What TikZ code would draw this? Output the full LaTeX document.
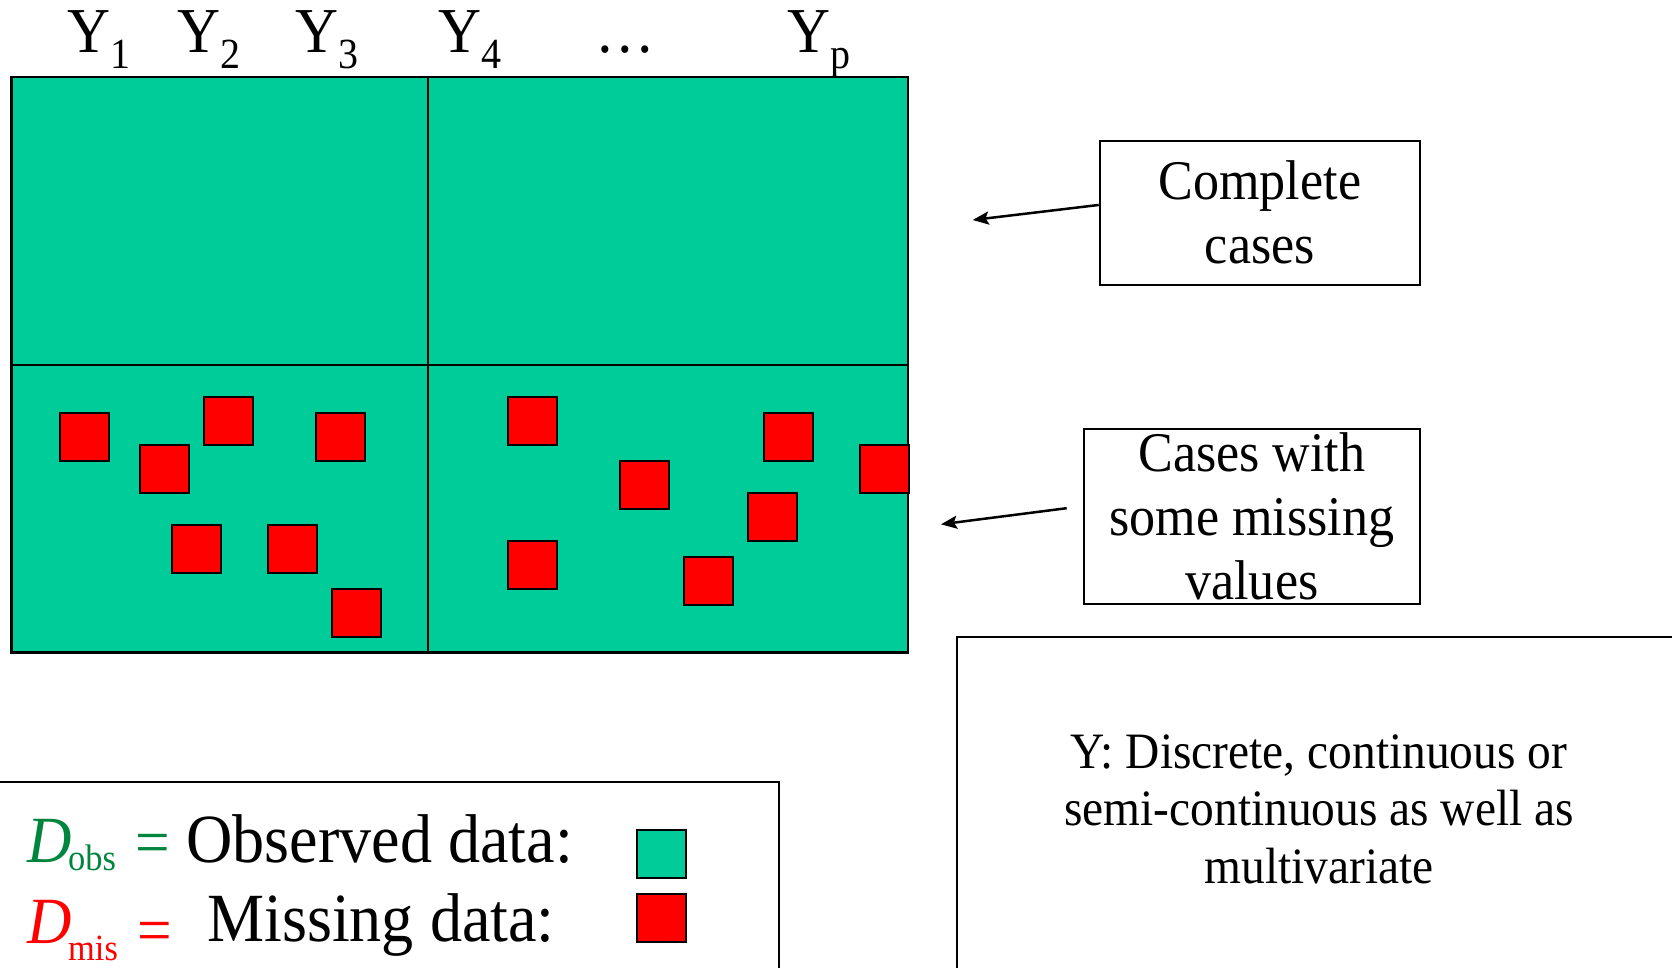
\documentclass[tikz,border=0pt]{standalone}
\usepackage{fontspec}
\setmainfont{Liberation Serif}[FakeStretch=0.93]
\usetikzlibrary{arrows.meta,calc}
\definecolor{obsgreen}{RGB}{0,204,153}
\definecolor{misred}{RGB}{255,0,0}
\definecolor{labgreen}{RGB}{0,133,62}
\newcommand\fs[1]{\fontsize{#1pt}{#1pt}\selectfont}
\newcommand\varidx[1]{\raisebox{-15.6pt}{\fs{43}#1}}

\begin{document}
\begin{tikzpicture}[x=1pt,y=-1pt,
  txt/.style={inner sep=0pt, anchor=base west},
  cell/.style={fill=misred, draw=black, line width=2pt},
  keybox/.style={draw=black, line width=2pt, minimum size=48.6pt, inner sep=0pt, anchor=north west},
  callout/.style={draw=black, line width=2pt, inner sep=0pt, align=center,
                  font=\fontsize{56pt}{64pt}\selectfont},
  frame/.style={draw=black, line width=2pt, inner sep=0pt},
  pointer/.style={-{Stealth[length=16pt,width=13pt,inset=3pt]}, line width=2.5pt},
]
\clip (0,0) rectangle (1672,968);

% variable names above the data matrix
\node[txt,font=\fs{64}] (y1) at (67,52.7) {Y\varidx{1}};
\node[txt,font=\fs{64}] (y2) at (177,52.7) {Y\varidx{2}};
\node[txt,font=\fs{64}] (y3) at (295,52.7) {Y\varidx{3}};
\node[txt,font=\fs{64}] (y4) at (438,52.7) {Y\varidx{4}};
\node[txt,font=\fs{64}] (dots) at (595,52.7) {…};
\node[txt,font=\fs{64}] (yp) at (787,52.7) {Y\varidx{p}};

% data matrix
\fill[obsgreen] (11.7,77) rectangle (908,652.7);
\draw[line width=2pt] (427.8,77) -- (427.8,652.7);
\draw[line width=2pt] (11.7,365) -- (908,365);
\draw[line width=2.5pt] (11.7,77) rectangle (908,652.7);
\foreach \i/\j in {0/1,5/3,9/0,16/1,7/8,13/8,17/12,28/0,44/1,50/3,35/4,43/6,28/9,39/10}
  \draw[cell] ({59.9+16*\i},{396.7+16*\j}) rectangle ++(48.6,48.6);

% callouts
\node[callout, minimum width=320.3pt, minimum height=144pt] (cbox) at (1259.85,212.7) {Complete\\cases};
\node[callout, minimum width=336.3pt, minimum height=175.3pt] (mbox) at (1251.85,516.35) {Cases with\\some missing\\values};
\coordinate (ctip) at (972.7,220);
\coordinate (mtip) at (941,524.3);
\draw[pointer] ($(cbox.north west)!0.447!(cbox.south west)$) -- (ctip);
\draw[pointer] ($(mbox.north west)!0.454!(mbox.south west)+(-16,0)$) -- (mtip);

% legend
\node[frame, anchor=north east, minimum width=820pt, minimum height=250pt] (legend) at (779.6,780.7) {};
\node[txt,font=\fs{66}\itshape,text=labgreen] (dobs) at (27,862) {D};
\node[txt,font=\fs{37},text=labgreen] (dobssub) at (68,870) {obs};
\node[txt,font=\fs{66},text=labgreen] (dobseq) at (135,864) {=};
\node[txt,font=\fs{69}] (obstext) at (186,862) {Observed data:};
\node[keybox, fill=obsgreen] (obskey) at (636,828.7) {};

\node[txt,font=\fs{66}\itshape,text=misred] (dmis) at (27,943) {D};
\node[txt,font=\fs{37},text=misred] (dmissub) at (68,960) {mis};
\node[txt,font=\fs{66},text=misred] (dmiseq) at (137,952) {=};
\node[txt,font=\fs{69}] (mistext) at (207,941) {Missing data:};
\node[keybox, fill=misred] (miskey) at (636,892.7) {};

% note on the variable types
\node[frame, anchor=north west, minimum width=730pt, minimum height=400pt] (ybox) at (956.4,636) {};
\node[inner sep=0pt, align=center, font=\fontsize{51pt}{57.5pt}\selectfont] (ytext) at (1319,809)
  {Y: Discrete, continuous or\\semi-continuous as well as\\multivariate};
\end{tikzpicture}
\end{document}
